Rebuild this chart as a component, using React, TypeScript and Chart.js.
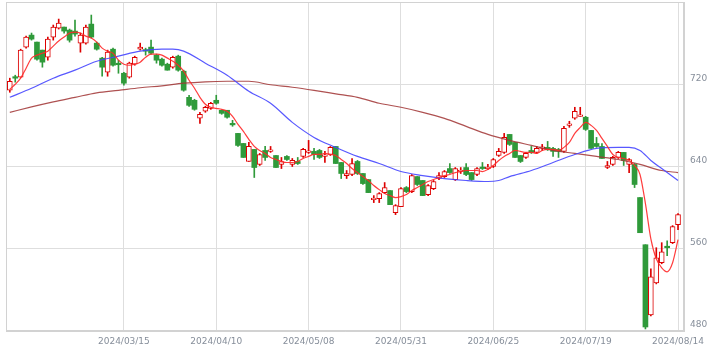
import { useEffect, useRef } from "react";
import { Chart, registerables } from "chart.js";

Chart.register(...registerables);

// Trading-day index 0..123 (2024/02/14 .. 2024/08/14)
const tickIdx = [21, 38, 55, 72, 89, 106, 123];
const tickLabels = ["2024/03/15", "2024/04/10", "2024/05/08", "2024/05/31", "2024/06/25", "2024/07/19", "2024/08/14"];
const yTicks = [480, 560, 640, 720, 800];

const opens = [714.2,726.8,726.8,756.1,767.8,761.0,753.2,746.3,765.9,774.6,
775.6,772.7,771.7,760.0,760.0,778.5,760.0,745.4,731.7,754.1,
739.5,730.7,726.8,739.5,754.1,753.2,756.1,748.3,744.4,739.5,
736.6,747.3,732.7,707.3,704.4,686.9,693.7,696.6,704.4,694.7,
694.7,681.0,672.2,662.4,644.9,656.6,642.0,655.6,654.7,650.7,
642.0,649.8,642.0,644.9,649.8,653.7,654.7,655.6,649.8,651.7,
659.5,643.9,631.2,632.2,644.9,633.2,627.3,607.8,608.8,614.6,
616.6,595.1,601.0,619.5,615.6,630.2,626.4,612.7,618.5,628.3,
630.2,638.0,627.3,635.1,639.0,634.1,632.2,639.0,638.0,640.0,
650.7,653.7,671.2,663.4,650.7,648.8,655.6,653.7,657.6,658.6,
657.6,656.6,654.7,680.0,686.9,688.8,687.9,675.1,662.4,659.5,
639.0,642.0,648.8,653.7,642.0,642.0,609.8,563.9,495.6,526.8,
546.4,562.0,565.9,583.4];

const highs = [725.9,728.8,754.1,766.8,769.8,761.0,753.2,765.9,777.6,783.4,
775.6,773.7,782.5,769.8,777.6,787.3,761.0,746.3,753.2,755.1,
743.4,731.7,741.5,747.3,760.0,755.1,762.9,749.3,745.4,740.5,
747.3,748.3,733.7,709.3,705.4,692.7,698.6,702.4,709.3,694.7,
694.7,684.9,672.2,662.4,663.4,656.6,652.7,659.5,659.5,650.7,
648.8,650.7,647.8,648.8,657.6,665.4,657.6,656.6,654.7,659.5,
659.5,643.9,636.1,647.8,645.9,633.2,627.3,611.7,614.6,624.4,
616.6,602.9,619.5,620.5,632.2,630.2,626.4,622.5,626.4,634.1,
636.1,642.9,639.0,639.0,642.9,634.1,639.0,643.9,642.0,647.8,
657.6,672.2,671.2,663.4,650.7,653.7,659.5,659.5,661.5,664.4,
658.6,657.6,679.1,684.0,697.6,697.6,688.8,675.1,668.3,662.4,
644.9,649.8,654.7,653.7,647.8,642.9,609.8,563.9,540.5,561.0,
565.9,567.8,582.5,594.1];

const lows = [712.2,722.0,726.8,755.1,762.9,743.4,736.6,743.4,762.9,773.7,
769.8,761.0,766.8,751.2,759.0,764.9,753.2,727.8,727.8,737.6,
730.7,719.0,725.9,738.5,753.2,748.3,749.3,740.5,737.6,733.7,
735.6,732.7,713.2,698.5,694.7,682.0,692.7,695.6,700.5,690.8,
686.9,679.1,659.5,648.8,644.9,629.3,641.0,645.9,653.7,639.0,
638.0,645.9,640.0,642.0,648.8,652.7,646.8,647.8,643.9,650.7,
642.9,628.3,628.3,631.2,632.2,622.5,614.6,604.9,604.9,613.7,
602.9,593.2,601.0,614.6,614.6,621.5,611.7,611.7,617.5,627.3,
629.3,633.2,626.4,633.2,631.2,626.4,631.2,637.1,637.1,639.0,
649.8,652.7,660.5,648.8,643.9,647.8,652.7,652.7,655.6,655.6,
649.8,648.8,653.7,678.1,685.9,688.8,675.1,657.6,658.6,647.8,
638.0,641.0,647.8,641.0,634.1,619.5,575.6,482.0,494.6,525.8,
545.4,553.2,565.0,578.5];

const closes = [722.9,725.9,753.2,765.9,763.9,744.4,741.5,763.9,775.6,779.5,
771.7,762.9,768.8,767.8,775.6,765.9,754.1,736.6,751.2,738.5,
739.0,721.0,740.5,746.3,756.1,752.2,750.2,743.4,738.5,733.7,
746.3,733.7,714.2,699.5,695.6,690.8,697.6,701.5,701.5,691.7,
687.9,680.5,660.5,648.8,659.5,639.0,651.7,648.8,655.6,639.0,
644.9,646.8,645.9,642.9,656.6,654.7,651.7,648.8,650.7,658.6,
642.9,633.2,633.2,642.9,633.2,623.4,614.6,608.8,613.7,619.5,
602.9,602.0,618.5,615.6,631.2,622.5,611.7,621.5,625.4,631.2,
635.1,634.1,638.0,636.1,632.2,627.3,638.0,638.0,639.0,646.8,
654.7,668.3,661.5,648.8,644.9,652.7,653.7,657.6,658.6,656.6,
654.7,654.7,677.1,681.0,693.7,689.8,676.1,657.6,659.5,647.8,
641.0,648.8,653.7,645.9,646.8,622.5,575.6,483.9,532.7,551.2,
557.1,561.0,581.5,593.2];

const ma5 = [715.1,720.0,725.9,735.6,745.4,748.3,750.2,752.2,757.1,762.0,
765.9,769.8,770.7,769.8,766.8,764.9,761.0,755.1,752.2,750.2,
743.4,739.5,738.5,739.5,741.5,746.3,749.3,749.3,748.3,745.4,
742.4,738.5,732.7,723.9,716.1,707.3,700.5,697.6,696.6,695.6,
693.7,688.8,681.0,674.1,666.4,659.5,655.6,652.7,648.8,646.8,
644.9,643.9,643.9,644.9,647.8,649.8,651.7,651.7,652.7,651.7,
650.7,646.8,642.9,638.0,634.1,630.2,626.4,621.5,617.5,613.7,
611.7,609.8,610.7,612.7,616.6,619.5,622.5,625.4,627.3,629.3,
631.2,632.2,634.1,635.1,636.1,636.1,636.1,635.1,637.1,641.0,
645.9,649.8,652.7,655.6,654.7,653.7,653.7,652.7,655.6,656.6,
656.6,655.6,658.6,663.4,672.2,678.0,682.9,680.0,675.1,667.3,
659.5,651.7,648.8,647.8,645.9,641.0,632.2,603.9,569.7,550.2,
541.5,537.6,546.4,568.8];

const ma25Idx = [0,4,8,12,16,20,24,28,30,32,36,40,44,48,52,56,60,64,68,72,76,80,84,88,90,92,96,100,104,108,112,114,116,118,120,123];
const ma25Val = [707.3,716.1,725.9,733.7,742.4,747.3,752.2,754.1,754.1,752.2,740.5,728.8,713.2,701.5,682.9,668.3,658.6,649.8,642.9,635.1,631.2,628.3,626.4,625.4,626.4,630.2,636.1,643.9,651.7,657.6,658.6,658.6,655.6,645.9,638.0,626.4];

const ma75Idx = [0,4,8,12,16,20,24,28,32,36,40,44,48,52,56,60,64,68,72,76,80,84,88,92,96,100,104,108,112,116,120,123];
const ma75Val = [692.7,698.0,702.9,707.3,711.7,714.1,716.6,718.5,721.0,722.4,722.9,722.9,719.5,717.1,714.1,710.7,707.3,701.5,697.6,692.7,686.8,679.0,671.2,665.4,660.5,655.6,652.7,649.8,646.8,642.0,636.1,634.1];

const UP = "#dd0000";
const DOWN = "#2f9a3a";
const GRID = "#dedede";
const FRAME = "#d2d2d2";
const TEXT = "#868e9a";

const framePlugin = {
  id: "frame",
  beforeDatasetsDraw(chart: any) {
    const { ctx, chartArea } = chart;
    ctx.save();
    ctx.strokeStyle = FRAME;
    ctx.lineWidth = 1;
    ctx.strokeRect(
      Math.round(chartArea.left) + 0.5,
      Math.round(chartArea.top) + 0.5,
      Math.round(chartArea.right - chartArea.left) - 1,
      Math.round(chartArea.bottom - chartArea.top) - 1
    );
    ctx.restore();
  },
};

export default function App() {
  const ref = useRef<HTMLCanvasElement>(null);

  useEffect(() => {
    document.body.style.margin = "0";
    const idx = opens.map((_, i) => i);
    const isUp = (i: number) => closes[i] >= opens[i];
    const upBodies = idx.filter(isUp).map((i) => ({ x: i, y: [opens[i], closes[i]] }));
    const downBodies = idx.filter((i) => !isUp(i)).map((i) => ({ x: i, y: [opens[i], closes[i]] }));
    const wicks = idx.map((i) => ({ x: i, y: [lows[i], highs[i]] }));
    const wickColors = idx.map((i) => (isUp(i) ? UP : DOWN));

    const lineCommon = {
      type: "line" as const,
      pointRadius: 0,
      borderWidth: 1.2,
      fill: false,
      cubicInterpolationMode: "monotone" as const,
    };

    const chart = new Chart(ref.current as HTMLCanvasElement, {
      type: "bar",
      data: {
        datasets: [
          {
            ...lineCommon,
            data: ma5.map((v, i) => ({ x: i, y: v })),
            borderColor: "rgba(255,40,40,0.9)",
            order: 1,
          } as any,
          {
            ...lineCommon,
            data: ma25Idx.map((x, k) => ({ x, y: ma25Val[k] })),
            borderColor: "rgba(70,70,255,0.9)",
            order: 2,
          } as any,
          {
            ...lineCommon,
            data: ma75Idx.map((x, k) => ({ x, y: ma75Val[k] })),
            borderColor: "rgba(160,50,50,0.85)",
            order: 3,
          } as any,
          {
            type: "bar",
            data: upBodies as any,
            backgroundColor: "#ffffff",
            borderColor: UP,
            borderWidth: 1,
            borderSkipped: false,
            barThickness: 5,
            minBarLength: 1.5,
            grouped: false,
            order: 4,
          } as any,
          {
            type: "bar",
            data: downBodies as any,
            backgroundColor: DOWN,
            borderWidth: 0,
            barThickness: 5,
            minBarLength: 1.5,
            grouped: false,
            order: 5,
          } as any,
          {
            type: "bar",
            data: wicks as any,
            backgroundColor: wickColors,
            borderWidth: 0,
            barThickness: 1,
            grouped: false,
            order: 6,
          } as any,
        ],
      },
      options: {
        animation: false,
        responsive: false,
        layout: { padding: { left: 6, top: 2, right: 0, bottom: 0 } },
        plugins: { legend: { display: false }, tooltip: { enabled: false } },
        scales: {
          x: {
            type: "linear",
            offset: false,
            bounds: "ticks",
            min: -0.7,
            max: 124.1,
            afterBuildTicks: (s: any) => {
              s.ticks = tickIdx.map((v) => ({ value: v }));
            },
            afterFit: (s: any) => {
              s.height = 24;
              s.paddingLeft = 0;
              s.paddingRight = 0;
            },
            grid: { color: GRID, drawTicks: false, offset: false },
            border: { display: true, color: FRAME },
            ticks: {
              autoSkip: false,
              maxRotation: 0,
              padding: 5,
              color: TEXT,
              font: { family: "DejaVu Sans", size: 9 },
              callback: (v: any) => {
                const k = tickIdx.indexOf(Number(v));
                return k >= 0 ? tickLabels[k] : "";
              },
            },
          },
          y: {
            type: "linear",
            position: "right",
            min: 480,
            max: 800,
            afterBuildTicks: (s: any) => {
              s.ticks = yTicks.map((v) => ({ value: v }));
            },
            afterFit: (s: any) => {
              s.width = 42;
              s.paddingTop = 0;
              s.paddingBottom = 0;
            },
            grid: { color: GRID, drawTicks: false },
            border: { display: true, color: FRAME },
            ticks: {
              padding: 6,
              labelOffset: -6,
              color: TEXT,
              font: { family: "DejaVu Sans", size: 9 },
              callback: (v: any) => (Number(v) === 800 ? "" : String(v)),
            },
          },
        },
      } as any,
      plugins: [framePlugin],
    });
    return () => chart.destroy();
  }, []);

  return (
    <div style={{ width: 726, height: 355 }}>
      <canvas ref={ref} width={726} height={355} style={{ display: "block" }} />
    </div>
  );
}
